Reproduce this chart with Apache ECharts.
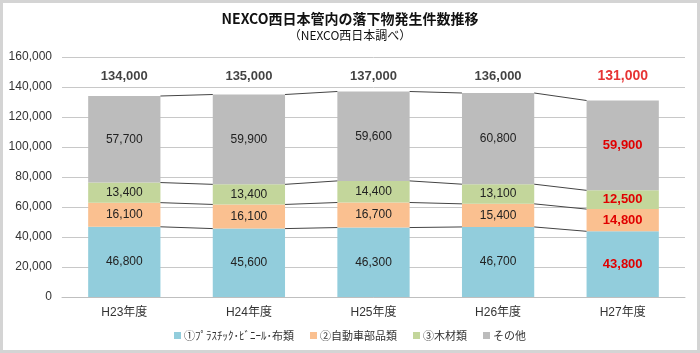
<!DOCTYPE html>
<html>
<head>
<meta charset="utf-8">
<script src="https://cdn.jsdelivr.net/npm/echarts@6/dist/echarts.min.js"></script>
<style>
  html, body { margin: 0; padding: 0; background: #fff; }
  #main { width: 700px; height: 353px; box-sizing: border-box; border: 3px solid #d4d4d4; }
</style>
</head>
<body>
<div id="main"></div>
<script>
// 年度ごとの落下物件数
const years = ['H23年度', 'H24年度', 'H25年度', 'H26年度', 'H27年度']
const plastic = [46800, 45600, 46300, 46700, 43800]
const carParts = [16100, 16100, 16700, 15400, 14800]
const wood = [13400, 13400, 14400, 13100, 12500]
const others = [57700, 59900, 59600, 60800, 59900]
const totals = [134000, 135000, 137000, 136000, 131000]
const seriesNames = ['①ﾌﾟﾗｽﾁｯｸ･ﾋﾞﾆｰﾙ･布類', '②自動車部品類', '③木材類', 'その他']
const colors = ['#92cddc', '#fac090', '#c3d69b', '#bcbcbc']
const totalLabelY = 147000
const highlight = '#e00000'

const stacks = [plastic, carParts, wood, others]
// 積み上げの境界（区切り線用）
const cum = stacks.map((s, k) => s.map((v, i) => {
  let sum = 0
  for (let j = 0; j <= k; j++) sum += stacks[j][i]
  return sum
}))

const fmt = v => v.toLocaleString('en-US')
const last = years.length - 1

const chart = echarts.init(document.getElementById('main'))

const barSeries = stacks.map((s, k) => ({
  name: seriesNames[k],
  type: 'bar',
  stack: 'total',
  barWidth: '58%',
  itemStyle: { color: colors[k] },
  label: {
    show: true,
    position: 'inside',
    fontSize: 12,
    color: '#222',
    fontFamily: 'Liberation Sans, Arial, sans-serif',
    formatter: p => fmt(p.value)
  },
  data: s.map((v, i) => i === last
    ? { value: v, label: { color: highlight, fontWeight: 'bold', fontSize: 13 } }
    : v)
}))

const option = {
  animation: false,
  textStyle: { fontFamily: 'Liberation Sans, Arial, "Noto Sans CJK JP", sans-serif' },
  title: {
    text: 'NEXCO西日本管内の落下物発生件数推移',
    subtext: '（NEXCO西日本調べ）',
    left: 'center',
    top: 4,
    itemGap: 3,
    textStyle: { fontSize: 14, fontWeight: 'bold', color: '#111', fontFamily: '"Noto Sans CJK JP", sans-serif' },
    subtextStyle: { fontSize: 12, color: '#111', fontFamily: '"Noto Sans CJK JP", sans-serif' }
  },
  legend: {
    data: seriesNames,
    bottom: 4,
    left: 'center',
    itemWidth: 7,
    itemHeight: 7,
    itemGap: 16,
    icon: 'rect',
    textStyle: { fontSize: 11, color: '#333', padding: [0, 0, 0, -2], fontFamily: '"Noto Sans CJK JP", sans-serif' }
  },
  grid: { left: 59, right: 12, top: 54, bottom: 53 },
  xAxis: {
    type: 'category',
    data: years,
    axisTick: { show: false },
    axisLine: { lineStyle: { color: '#bfbfbf' } },
    axisLabel: { fontSize: 12, color: '#333', margin: 10, fontFamily: 'Liberation Sans, "Noto Sans CJK JP", sans-serif' }
  },
  yAxis: {
    type: 'value',
    min: 0,
    max: 160000,
    interval: 20000,
    axisLine: { show: false },
    axisTick: { show: false },
    splitLine: { lineStyle: { color: '#c8c8c8' } },
    axisLabel: { fontSize: 12, color: '#333', margin: 10, formatter: v => fmt(v) }
  },
  series: [
    ...barSeries,
    {
      type: 'custom',
      silent: true,
      z: 5,
      data: years.slice(0, last).map((y, i) => i),
      renderItem: (params, api) => {
        const i = params.dataIndex
        const half = api.size([1, 0])[0] * 0.58 / 2
        const children = cum.map(level => {
          const a = api.coord([i, level[i]])
          const b = api.coord([i + 1, level[i + 1]])
          return {
            type: 'line',
            shape: { x1: a[0] + half, y1: a[1], x2: b[0] - half, y2: b[1] },
            style: { stroke: '#444', lineWidth: 1 }
          }
        })
        return { type: 'group', children }
      }
    },
    {
      type: 'scatter',
      symbolSize: 0,
      silent: true,
      label: {
        show: true,
        position: 'inside',
        fontSize: 13,
        fontWeight: 'bold',
        color: '#111',
        formatter: p => fmt(totals[p.dataIndex])
      },
      data: totals.map((t, i) => i === last
        ? { value: [i, totalLabelY], label: { color: highlight, fontSize: 14 } }
        : [i, totalLabelY])
    }
  ]
}

chart.setOption(option)
</script>
</body>
</html>
